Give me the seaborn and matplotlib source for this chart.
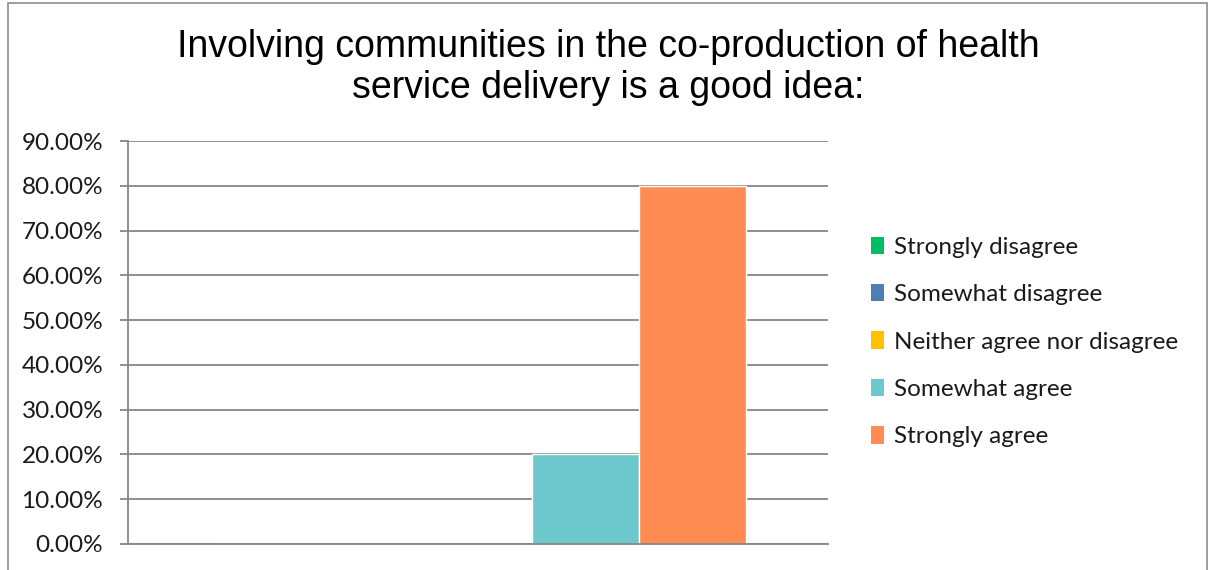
import matplotlib
matplotlib.use("Agg")
import matplotlib.pyplot as plt
from matplotlib.patches import Rectangle, Patch
from matplotlib.ticker import PercentFormatter, MultipleLocator
import seaborn as sns
import pandas as pd

# Survey responses (share of respondents)
responses = ["Strongly disagree", "Somewhat disagree", "Neither agree nor disagree",
             "Somewhat agree", "Strongly agree"]
shares = [0.0, 0.0, 0.0, 0.20, 0.80]
colors = ["#00BF63", "#4F7DB8", "#FFC000", "#6CC8CC", "#FF8C52"]
title = "Involving communities in the co-production of health\nservice delivery is a good idea:"

df = pd.DataFrame({"group": [""] * len(responses), "response": responses, "share": shares})

sns.set_theme(style="white")
plt.rcParams["font.family"] = ["Lato", "DejaVu Sans"]

fig = plt.figure(figsize=(12.09, 5.70), dpi=100)
ax = fig.add_axes([128 / 1209, 26 / 570, 700 / 1209, 403 / 570])

sns.barplot(data=df, x="group", y="share", hue="response", hue_order=responses,
            palette=colors, width=0.766, gap=0, saturation=1, legend=False, ax=ax)

grid_c = "#868686"
ax.set_ylim(0, 0.9)
ax.set_xlim(-0.5, 0.5)
ax.yaxis.set_major_locator(MultipleLocator(0.1))
ax.yaxis.set_major_formatter(PercentFormatter(1.0, decimals=2))
ax.grid(axis="y", color=grid_c, linewidth=1.3)
ax.set_axisbelow(True)
ax.set_xlabel("")
ax.set_ylabel("")
ax.set_xticks([])
for side in ("top", "right"):
    ax.spines[side].set_visible(False)
for side in ("left", "bottom"):
    ax.spines[side].set_color(grid_c)
    ax.spines[side].set_linewidth(1.3)
ax.tick_params(axis="y", which="major", left=True, length=5.8, width=1.3,
               color=grid_c, pad=12, labelsize=17.5, labelcolor="#1a1a1a")

handles = [Patch(facecolor=c, edgecolor="none") for c in colors]
ax.legend(handles, responses, loc="center left", bbox_to_anchor=(871 / 1209, 1 - 342 / 570),
          bbox_transform=fig.transFigure, frameon=False, fontsize=17.5,
          handlelength=0.55, handleheight=0.72, handletextpad=0.4,
          labelspacing=1.08, borderpad=0, borderaxespad=0, labelcolor="#1a1a1a")

fig.text(608 / 1209, 1 - 67.5 / 570, title, ha="center", va="center",
         fontsize=27, linespacing=1.19, color="black", family="Liberation Sans")

# Chart-area frame
fig.patches.append(Rectangle((8 / 1209, -0.2), 1199 / 1209, 1.2 - 3 / 570,
                             transform=fig.transFigure, fill=False,
                             edgecolor="#8C8C8C", linewidth=1.2, clip_on=False))

fig.savefig("out.png", dpi=100)
